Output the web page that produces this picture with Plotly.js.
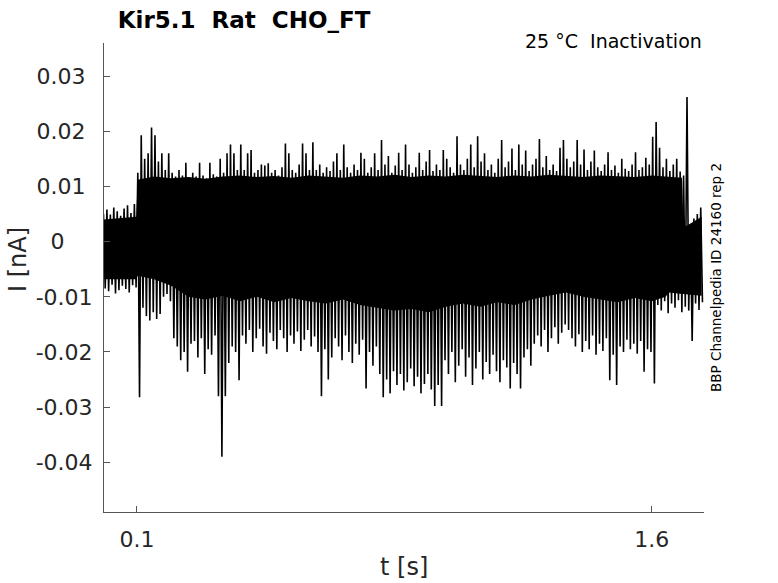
<!DOCTYPE html>
<html>
<head>
<meta charset="utf-8">
<script src="https://cdn.plot.ly/plotly-3.0.1.min.js"></script>
<style>
  html, body { margin: 0; padding: 0; background: #fff; }
  #chart { width: 778px; height: 583px; }
</style>
</head>
<body>
<div id="chart"></div>
<script>
// sampling grid of the envelope readings (s)
var t0 = 0.005, dt = 0.01;

// upper extreme of the sweeps in each 10 ms bin (nA)
var upper = [
  0.0050, 0.0058, 0.0049, 0.0062, 0.0055, 0.0047, 0.0060, 0.0066, 0.0052, 0.0068,
  0.0125, 0.0193, 0.0150, 0.0160, 0.0207, 0.0193, 0.0145, 0.0160, 0.0130, 0.0160,
  0.0125, 0.0118, 0.0130, 0.0120, 0.0143, 0.0115, 0.0125, 0.0118, 0.0143, 0.0120,
  0.0115, 0.0143, 0.0122, 0.0118, 0.0150, 0.0125, 0.0160, 0.0176, 0.0160, 0.0130,
  0.0176, 0.0130, 0.0160, 0.0166, 0.0125, 0.0130, 0.0140, 0.0138, 0.0142, 0.0125,
  0.0130, 0.0120, 0.0135, 0.0178, 0.0160, 0.0130, 0.0125, 0.0140, 0.0178, 0.0160,
  0.0130, 0.0180, 0.0130, 0.0140, 0.0125, 0.0135, 0.0128, 0.0145, 0.0160, 0.0130,
  0.0176, 0.0135, 0.0125, 0.0140, 0.0130, 0.0161, 0.0150, 0.0125, 0.0135, 0.0160,
  0.0130, 0.0184, 0.0140, 0.0155, 0.0125, 0.0138, 0.0161, 0.0130, 0.0176, 0.0140,
  0.0125, 0.0135, 0.0161, 0.0130, 0.0145, 0.0166, 0.0128, 0.0140, 0.0130, 0.0166,
  0.0150, 0.0135, 0.0125, 0.0191, 0.0140, 0.0130, 0.0150, 0.0176, 0.0135, 0.0191,
  0.0145, 0.0160, 0.0130, 0.0140, 0.0125, 0.0150, 0.0184, 0.0135, 0.0145, 0.0169,
  0.0130, 0.0176, 0.0140, 0.0165, 0.0128, 0.0140, 0.0150, 0.0186, 0.0135, 0.0155,
  0.0130, 0.0140, 0.0128, 0.0170, 0.0184, 0.0150, 0.0135, 0.0145, 0.0184, 0.0140,
  0.0167, 0.0130, 0.0145, 0.0165, 0.0135, 0.0128, 0.0140, 0.0162, 0.0130, 0.0138,
  0.0125, 0.0150, 0.0132, 0.0128, 0.0140, 0.0162, 0.0130, 0.0135, 0.0152, 0.0140,
  0.0190, 0.0217, 0.0170, 0.0135, 0.0150, 0.0128, 0.0140, 0.0150, 0.0127, 0.0120,
  0.0262, 0.0030, 0.0042, 0.0050, 0.0062
];

// lower extreme of the sweeps in each 10 ms bin (nA)
var lower = [
  -0.0085, -0.0090, -0.0078, -0.0094, -0.0088, -0.0080, -0.0086, -0.0092, -0.0079, -0.0083,
  -0.0282, -0.0120, -0.0135, -0.0143, -0.0128, -0.0140, -0.0131, -0.0100, -0.0095, -0.0108,
  -0.0175, -0.0190, -0.0215, -0.0200, -0.0236, -0.0185, -0.0180, -0.0210, -0.0175, -0.0240,
  -0.0195, -0.0205, -0.0170, -0.0280, -0.0390, -0.0280, -0.0220, -0.0190, -0.0200, -0.0251,
  -0.0170, -0.0185, -0.0160, -0.0200, -0.0175, -0.0158, -0.0190, -0.0203, -0.0165, -0.0180,
  -0.0195, -0.0160, -0.0175, -0.0200, -0.0170, -0.0185, -0.0163, -0.0198, -0.0178, -0.0160,
  -0.0190, -0.0172, -0.0200, -0.0280, -0.0195, -0.0250, -0.0210, -0.0175, -0.0190, -0.0215,
  -0.0170, -0.0200, -0.0220, -0.0185, -0.0205, -0.0178, -0.0266, -0.0200, -0.0225, -0.0190,
  -0.0240, -0.0282, -0.0250, -0.0275, -0.0235, -0.0260, -0.0240, -0.0270, -0.0255, -0.0230,
  -0.0262, -0.0245, -0.0275, -0.0258, -0.0240, -0.0268, -0.0298, -0.0260, -0.0298, -0.0215,
  -0.0240, -0.0200, -0.0255, -0.0225, -0.0195, -0.0245, -0.0210, -0.0260, -0.0230, -0.0200,
  -0.0250, -0.0218, -0.0240, -0.0205, -0.0235, -0.0255, -0.0215, -0.0228, -0.0266, -0.0220,
  -0.0240, -0.0266, -0.0210, -0.0195, -0.0225, -0.0185, -0.0170, -0.0190, -0.0160, -0.0200,
  -0.0175, -0.0155, -0.0185, -0.0165, -0.0150, -0.0160, -0.0175, -0.0190, -0.0168, -0.0200,
  -0.0180, -0.0195, -0.0170, -0.0205, -0.0185, -0.0198, -0.0175, -0.0251, -0.0205, -0.0260,
  -0.0190, -0.0200, -0.0178, -0.0195, -0.0185, -0.0203, -0.0180, -0.0236, -0.0195, -0.0200,
  -0.0257, -0.0115, -0.0125, -0.0108, -0.0130, -0.0112, -0.0120, -0.0106, -0.0128, -0.0118,
  -0.0125, -0.0180, -0.0112, -0.0124, -0.0110
];

// dense core of the overlaid sweeps, read every 50 ms
var coreT = [
  0.004, 0.098, 0.102,
  0.15, 0.20, 0.25, 0.30, 0.35, 0.40, 0.45, 0.50, 0.55, 0.60,
  0.65, 0.70, 0.75, 0.80, 0.85, 0.90, 0.95, 1.00, 1.05, 1.10,
  1.15, 1.20, 1.25, 1.30, 1.35, 1.40, 1.45, 1.50, 1.55, 1.60,
  1.64, 1.65, 1.688, 1.692, 1.745
];
var coreHi = [
  0.0040, 0.0045, 0.0112,
  0.0118, 0.0115, 0.0117, 0.0114, 0.0118, 0.0120, 0.0117, 0.0119, 0.0116, 0.0120,
  0.0118, 0.0116, 0.0120, 0.0118, 0.0121, 0.0117, 0.0120, 0.0118, 0.0121, 0.0119,
  0.0117, 0.0120, 0.0118, 0.0121, 0.0119, 0.0117, 0.0120, 0.0118, 0.0117, 0.0120,
  0.0118, 0.0118, 0.0116, 0.0025, 0.0045
];
var coreLo = [
  -0.0068, -0.0068, -0.0062,
  -0.0068, -0.0080, -0.0100, -0.0105, -0.0098, -0.0108, -0.0100, -0.0110, -0.0102, -0.0108,
  -0.0112, -0.0105, -0.0115, -0.0120, -0.0125, -0.0122, -0.0128, -0.0118, -0.0112, -0.0118,
  -0.0110, -0.0115, -0.0105, -0.0098, -0.0092, -0.0100, -0.0105, -0.0110, -0.0102, -0.0108,
  -0.0100, -0.0092, -0.0095, -0.0095, -0.0098
];

var xTickVals = [0.1, 1.6];
var xTickLabels = ['0.1', '1.6'];
var yTickVals = [-0.04, -0.03, -0.02, -0.01, 0, 0.01, 0.02, 0.03];
var yTickLabels = ['-0.04', '-0.03', '-0.02', '-0.01', '0', '0.01', '0.02', '0.03'];

// zigzag between the two extremes so the band reads as noisy sweeps
var zx = [], zy = [];
for (var i = 0; i < upper.length; i++) {
  var t = t0 + i * dt;
  zx.push(t - dt / 4, t + dt / 4);
  zy.push(upper[i], lower[i]);
}

// MATLAB-ish tick label placement
var NB = '\u00A0';
var yTickText = yTickLabels.map(function (s) {
  if (s === '0') return s + NB + NB + NB + NB;
  if (s.charAt(0) === '-') return s;
  return s + NB;
});

var font = 'DejaVu Sans';
var axisColor = '#555555';

var data = [
  { x: coreT, y: coreLo, type: 'scatter', mode: 'lines',
    line: { color: '#000', width: 0 }, hoverinfo: 'skip', showlegend: false },
  { x: coreT, y: coreHi, type: 'scatter', mode: 'lines', fill: 'tonexty',
    fillcolor: '#000', line: { color: '#000', width: 0 }, hoverinfo: 'skip', showlegend: false },
  { x: zx, y: zy, type: 'scatter', mode: 'lines',
    line: { color: '#000', width: 1.6 }, showlegend: false }
];

var layout = {
  width: 778,
  height: 583,
  margin: { l: 104, r: 74, t: 43, b: 71 },
  paper_bgcolor: '#fff',
  plot_bgcolor: '#fff',
  font: { family: font, color: '#262626' },
  showlegend: false,
  title: {
    text: 'Kir5.1' + NB + ' Rat' + NB + ' CHO_FT',
    font: { family: font, size: 23, color: '#000', weight: 'bold' },
    xref: 'paper', x: 0.023, xanchor: 'left',
    yref: 'container', y: 1 - 20 / 583, yanchor: 'middle'
  },
  xaxis: {
    range: [0.004, 1.752],
    tickvals: xTickVals, ticktext: xTickLabels,
    ticks: 'inside', ticklen: 6, tickwidth: 1, tickcolor: axisColor,
    showline: true, linecolor: axisColor, linewidth: 1, mirror: false,
    showgrid: false, zeroline: false,
    tickfont: { family: font, size: 22, color: '#262626' },
    ticklabelstandoff: 8
  },
  yaxis: {
    range: [-0.049, 0.036],
    tickvals: yTickVals, ticktext: yTickText,
    ticks: 'inside', ticklen: 6, tickwidth: 1, tickcolor: axisColor,
    showline: true, linecolor: axisColor, linewidth: 1, mirror: false,
    showgrid: false, zeroline: false,
    tickfont: { family: font, size: 22, color: '#262626' },
    ticklabelstandoff: 6
  },
  annotations: [
    { text: '25 °C' + NB + ' Inactivation', xref: 'paper', yref: 'paper',
      x: 1, xanchor: 'right', y: 1 + 2 / 469, yanchor: 'middle', showarrow: false,
      font: { family: font, size: 19, color: '#000' } },
    { text: 'BBP Channelpedia ID 24160 rep 2', xref: 'paper', yref: 'paper',
      x: (716 - 104) / 600, xanchor: 'center', y: (512 - 278) / 469, yanchor: 'middle',
      textangle: -90, showarrow: false,
      font: { family: font, size: 13.5, color: '#000' } },
    { text: 'I [nA]', xref: 'paper', yref: 'paper',
      x: (18 - 104) / 600, xanchor: 'center', y: (512 - 260) / 469, yanchor: 'middle',
      textangle: -90, showarrow: false,
      font: { family: font, size: 24, color: '#262626' } },
    { text: 't [s]', xref: 'paper', yref: 'paper',
      x: 0.5, xanchor: 'center', y: (512 - 567) / 469, yanchor: 'middle',
      showarrow: false,
      font: { family: font, size: 24, color: '#262626' } }
  ]
};

Plotly.newPlot('chart', data, layout, { displayModeBar: false, staticPlot: true });
</script>
</body>
</html>
